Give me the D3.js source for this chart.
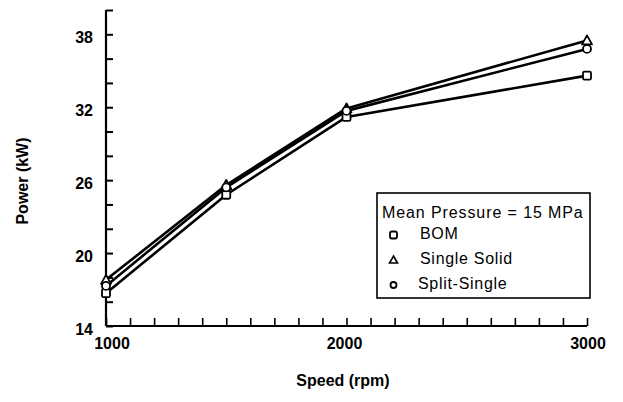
<!DOCTYPE html>
<html><head><meta charset="utf-8">
<script src="https://cdn.jsdelivr.net/npm/d3@7"></script>
<style>
body{margin:0;background:#fff;}
text{font-family:"Liberation Sans",Arial,sans-serif;fill:#000;}
</style></head><body>
<svg id="c" width="623" height="402"></svg>
<script>
const speeds = [1000, 1500, 2000, 3000];
const bom = [16.7, 24.8, 31.2, 34.6];
const singleSolid = [17.8, 25.6, 31.9, 37.5];
const splitSingle = [17.3, 25.4, 31.7, 36.8];
const yTickLabels = [14, 20, 26, 32, 38];
const xTickLabels = [1000, 2000, 3000];
const legendTitle = "Mean Pressure = 15 MPa";
const seriesNames = ["BOM", "Single Solid", "Split-Single"];

const svg = d3.select("#c");
const x = d3.scaleLinear().domain([1000, 3000]).range([106, 587]);
const y = d3.scaleLinear().domain([14, 40]).range([326, 10]);

// axes
const yAxis = d3.axisRight(y).tickValues(d3.range(14, 40.1, 2)).tickSize(7).tickFormat("");
const gy = svg.append("g").attr("transform", "translate(106,0)").call(yAxis);
gy.select(".domain").attr("d", "M0,10V326").attr("stroke-width", 2.2);
gy.selectAll(".tick line").attr("stroke-width", 2);
const xAxis = d3.axisTop(x).tickValues(d3.range(1000, 3000.1, 100)).tickSize(8).tickFormat("");
const gx = svg.append("g").attr("transform", "translate(0,326)").call(xAxis);
gx.select(".domain").attr("d", "M106,0H587").attr("stroke-width", 2);
gx.selectAll(".tick line").attr("stroke-width", 1.6);

svg.selectAll(".ylab").data(yTickLabels).join("text")
  .attr("x", 93).attr("y", d => y(d) + 8.5).attr("text-anchor", "end")
  .attr("font-size", 16).attr("font-weight", "bold").text(d => d);
svg.selectAll(".xlab").data(xTickLabels).join("text")
  .attr("x", (d, i) => x(d) + (i === 0 ? 6 : (i === 1 ? -2 : 1))).attr("y", 349).attr("text-anchor", "middle")
  .attr("font-size", 16).attr("font-weight", "bold").text(d => d);

svg.append("text").attr("transform", "translate(28,181) rotate(-90)")
  .attr("text-anchor", "middle").attr("font-size", 16).attr("font-weight", "bold").text("Power (kW)");
svg.append("text").attr("x", 343).attr("y", 386).attr("text-anchor", "middle")
  .attr("font-size", 16).attr("font-weight", "bold").text("Speed (rpm)");

// lines
const line = d3.line().x((d, i) => x(speeds[i])).y(d => y(d));
const series = [bom, singleSolid, splitSingle];
series.forEach(s => {
  svg.append("path").datum(s).attr("d", line).attr("fill", "none")
    .attr("stroke", "#000").attr("stroke-width", 2.6).attr("stroke-linejoin", "round");
});

// markers
function drawMarker(g, kind, cx, cy) {
  if (kind === 0) {
    g.append("rect").attr("x", cx - 4).attr("y", cy - 4).attr("width", 8).attr("height", 8)
      .attr("rx", 1.5).attr("fill", "#fff").attr("stroke", "#000").attr("stroke-width", 1.8);
  } else if (kind === 1) {
    g.append("path").attr("d", `M${cx},${cy-5}L${cx+5},${cy+4}L${cx-5},${cy+4}Z`)
      .attr("fill", "#fff").attr("stroke", "#000").attr("stroke-width", 1.8).attr("stroke-linejoin", "round");
  } else {
    g.append("circle").attr("cx", cx).attr("cy", cy).attr("r", 4)
      .attr("fill", "#fff").attr("stroke", "#000").attr("stroke-width", 1.8);
  }
}
const mg = svg.append("g");
series.forEach((s, k) => s.forEach((v, i) => drawMarker(mg, k, x(speeds[i]), y(v))));

// legend
const lg = svg.append("g");
lg.append("rect").attr("x", 377).attr("y", 193).attr("width", 213).attr("height", 105)
  .attr("fill", "#fff").attr("stroke", "#000").attr("stroke-width", 1.6);
lg.append("text").attr("x", 382).attr("y", 218).attr("font-size", 16)
  .attr("letter-spacing", 0.9).text(legendTitle);
const entryBase = [239, 264, 289];
seriesNames.forEach((n, k) => {
  const cy = 235 + k * 25;
  const sg = lg.append("g");
  if (k === 0) {
    sg.append("rect").attr("x", 390).attr("y", cy - 3.5).attr("width", 7).attr("height", 7)
      .attr("rx", 2).attr("fill", "#fff").attr("stroke", "#000").attr("stroke-width", 1.8);
  } else if (k === 1) {
    sg.append("path").attr("d", `M393.5,${cy-4}L397.5,${cy+3}L389.5,${cy+3}Z`)
      .attr("fill", "#fff").attr("stroke", "#000").attr("stroke-width", 1.6);
  } else {
    sg.append("circle").attr("cx", 393.5).attr("cy", cy).attr("r", 3)
      .attr("fill", "#fff").attr("stroke", "#000").attr("stroke-width", 1.8);
  }
  lg.append("text").attr("x", k === 2 ? 418 : 420).attr("y", entryBase[k]).attr("font-size", 16)
    .attr("letter-spacing", 0.7).text(n);
});
</script></body></html>
